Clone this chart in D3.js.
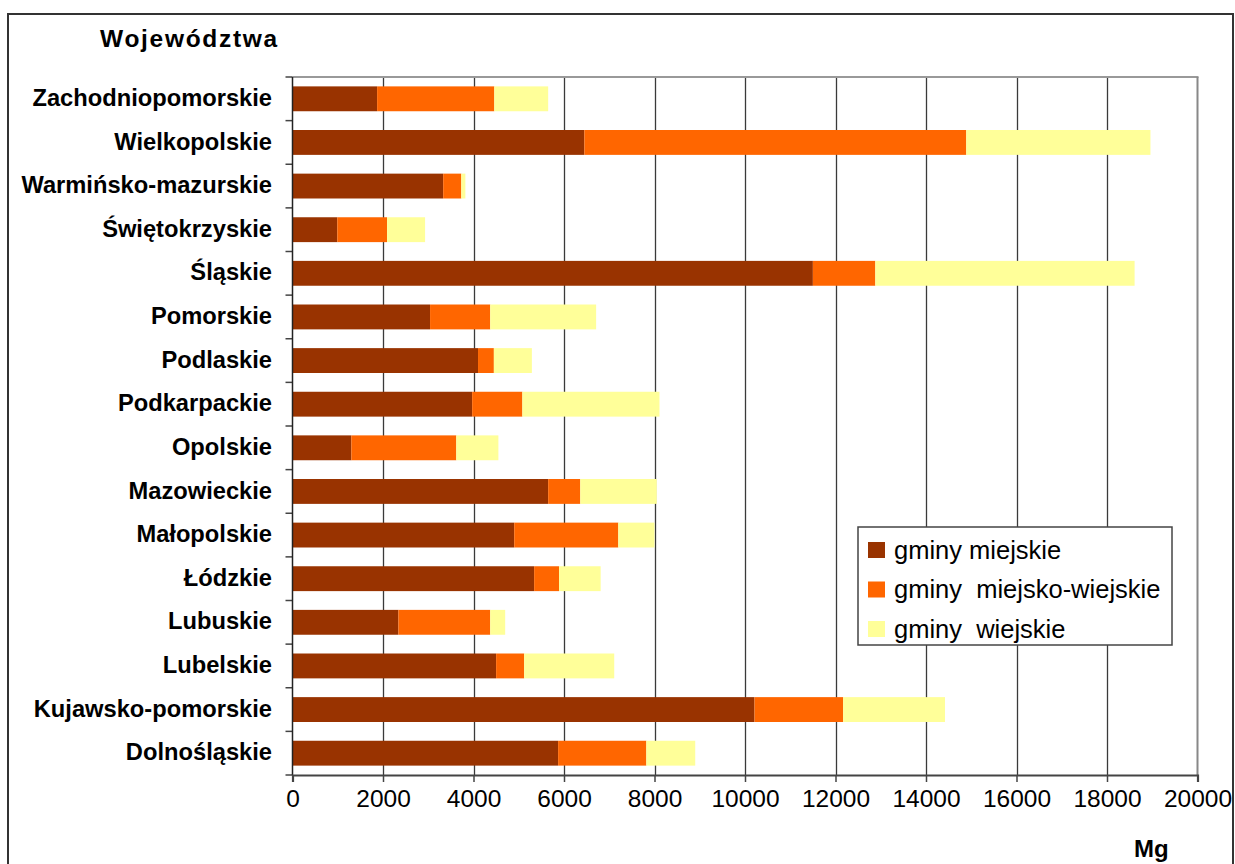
<!DOCTYPE html>
<html>
<head>
<meta charset="utf-8">
<script src="https://cdn.jsdelivr.net/npm/d3@7"></script>
<style>
  html, body { margin: 0; padding: 0; background: #fff; }
  svg { display: block; font-family: "Liberation Sans", Arial, sans-serif; }
</style>
</head>
<body>
<svg id="chart" width="1235" height="864"></svg>
<script>
// Voivodeships, top to bottom
const categories = [
  "Zachodniopomorskie", "Wielkopolskie", "Warmińsko-mazurskie", "Świętokrzyskie",
  "Śląskie", "Pomorskie", "Podlaskie", "Podkarpackie", "Opolskie", "Mazowieckie",
  "Małopolskie", "Łódzkie", "Lubuskie", "Lubelskie", "Kujawsko-pomorskie", "Dolnośląskie"
];

// Mg per municipality type
const gminyMiejskie = [1870, 6450, 3330, 990, 11500, 3040, 4100, 3970, 1300, 5650, 4900, 5340, 2340, 4500, 10210, 5870];
const gminyMiejskoWiejskie = [2590, 8440, 400, 1100, 1380, 1330, 350, 1110, 2320, 710, 2300, 550, 2030, 620, 1960, 1950];
const gminyWiejskie = [1190, 4070, 90, 840, 5730, 2340, 840, 3030, 930, 1690, 800, 920, 330, 1990, 2250, 1080];

const seriesNames = ["gminy miejskie", "gminy  miejsko-wiejskie", "gminy  wiejskie"];
const seriesColors = ["#993300", "#FF6600", "#FFFF99"];
const xTicks = [0, 2000, 4000, 6000, 8000, 10000, 12000, 14000, 16000, 18000, 20000];

const svg = d3.select("#chart");
const plot = { left: 292.5, right: 1197.5, top: 77, bottom: 775 };

// outer frame
svg.append("rect")
  .attr("x", 8).attr("y", 14)
  .attr("width", 1225).attr("height", 870)
  .attr("fill", "none").attr("stroke", "#333").attr("stroke-width", 2);

const x = d3.scaleLinear().domain([0, 20000]).range([plot.left, plot.right]);
const y = d3.scaleBand().domain(categories)
  .range([plot.top, plot.bottom])
  .paddingInner(0.43).paddingOuter(0.215);

// vertical gridlines
svg.append("g").selectAll("line")
  .data(xTicks.filter(d => d > 0 && d < 20000))
  .join("line")
  .attr("x1", d => Math.round(x(d)) + 0.5).attr("x2", d => Math.round(x(d)) + 0.5)
  .attr("y1", plot.top).attr("y2", plot.bottom)
  .attr("stroke", "#3a3a3a").attr("stroke-width", 1.3);

// plot area top and right edges
svg.append("line")
  .attr("x1", plot.left).attr("x2", plot.right + 1)
  .attr("y1", plot.top).attr("y2", plot.top)
  .attr("stroke", "#999").attr("stroke-width", 2);
svg.append("line")
  .attr("x1", plot.right).attr("x2", plot.right)
  .attr("y1", plot.top).attr("y2", plot.bottom)
  .attr("stroke", "#888").attr("stroke-width", 2);

// stacked bars
const rows = categories.map((c, i) => ({
  cat: c, vals: [gminyMiejskie[i], gminyMiejskoWiejskie[i], gminyWiejskie[i]]
}));
const stack = d3.stack().keys([0, 1, 2]).value((d, k) => d.vals[k]);
const layers = stack(rows);

svg.append("g").selectAll("g")
  .data(layers)
  .join("g")
  .attr("fill", (d, i) => seriesColors[i])
  .selectAll("rect")
  .data(d => d)
  .join("rect")
  .attr("x", d => x(d[0]))
  .attr("width", d => x(d[1]) - x(d[0]))
  .attr("y", d => y(d.data.cat))
  .attr("height", y.bandwidth());

// category axis: boundary ticks
const step = y.step();
const boundaries = d3.range(categories.length + 1).map(i => plot.top + i * step);
svg.append("g").selectAll("line")
  .data(boundaries)
  .join("line")
  .attr("x1", plot.left - 7).attr("x2", plot.left)
  .attr("y1", d => d).attr("y2", d => d)
  .attr("stroke", "#444").attr("stroke-width", 1.5);
svg.append("line")
  .attr("x1", plot.left).attr("x2", plot.left)
  .attr("y1", plot.top).attr("y2", plot.bottom)
  .attr("stroke", "#222").attr("stroke-width", 1.5);

// category labels
const yAxis = svg.append("g")
  .attr("transform", `translate(272,0)`)
  .call(d3.axisLeft(y).tickSize(0).tickPadding(0));
yAxis.select(".domain").remove();
yAxis.selectAll("text")
  .attr("font-family", "Liberation Sans, Arial, sans-serif")
  .attr("font-size", 23.7).attr("font-weight", "bold")
  .attr("fill", "#000")
  .attr("dy", "0.3em");

// value axis
const xAxis = svg.append("g")
  .attr("transform", `translate(0,${plot.bottom})`)
  .call(d3.axisBottom(x).tickValues(xTicks).tickSize(7).tickPadding(8).tickFormat(d3.format("d")));
xAxis.select(".domain").attr("stroke", "#444").attr("stroke-width", 2.2);
xAxis.selectAll(".tick line").attr("stroke", "#444").attr("stroke-width", 1.5);
xAxis.selectAll("text")
  .attr("font-family", "Liberation Sans, Arial, sans-serif")
  .attr("font-size", 24.5).attr("fill", "#000");

// titles
svg.append("text")
  .attr("x", 100).attr("y", 47)
  .attr("font-size", 24.5).attr("font-weight", "bold")
  .attr("letter-spacing", 1.7)
  .text("Województwa");
svg.append("text")
  .attr("x", 1134).attr("y", 857)
  .attr("font-size", 24).attr("font-weight", "bold")
  .text("Mg");

// legend
const legend = svg.append("g").attr("transform", "translate(858,527)");
legend.append("rect")
  .attr("width", 314).attr("height", 118)
  .attr("fill", "#fff").attr("stroke", "#444").attr("stroke-width", 1.5);
const item = legend.selectAll("g.item")
  .data(seriesNames)
  .join("g").attr("class", "item")
  .attr("transform", (d, i) => `translate(10,${23 + i * 39.5})`);
item.append("rect")
  .attr("x", 0).attr("y", -8)
  .attr("width", 17).attr("height", 16)
  .attr("fill", (d, i) => seriesColors[i]);
item.append("text")
  .attr("x", 26).attr("y", 0).attr("dy", "0.35em")
  .attr("font-size", 25.5)
  .style("white-space", "pre")
  .text(d => d);
</script>
</body>
</html>
